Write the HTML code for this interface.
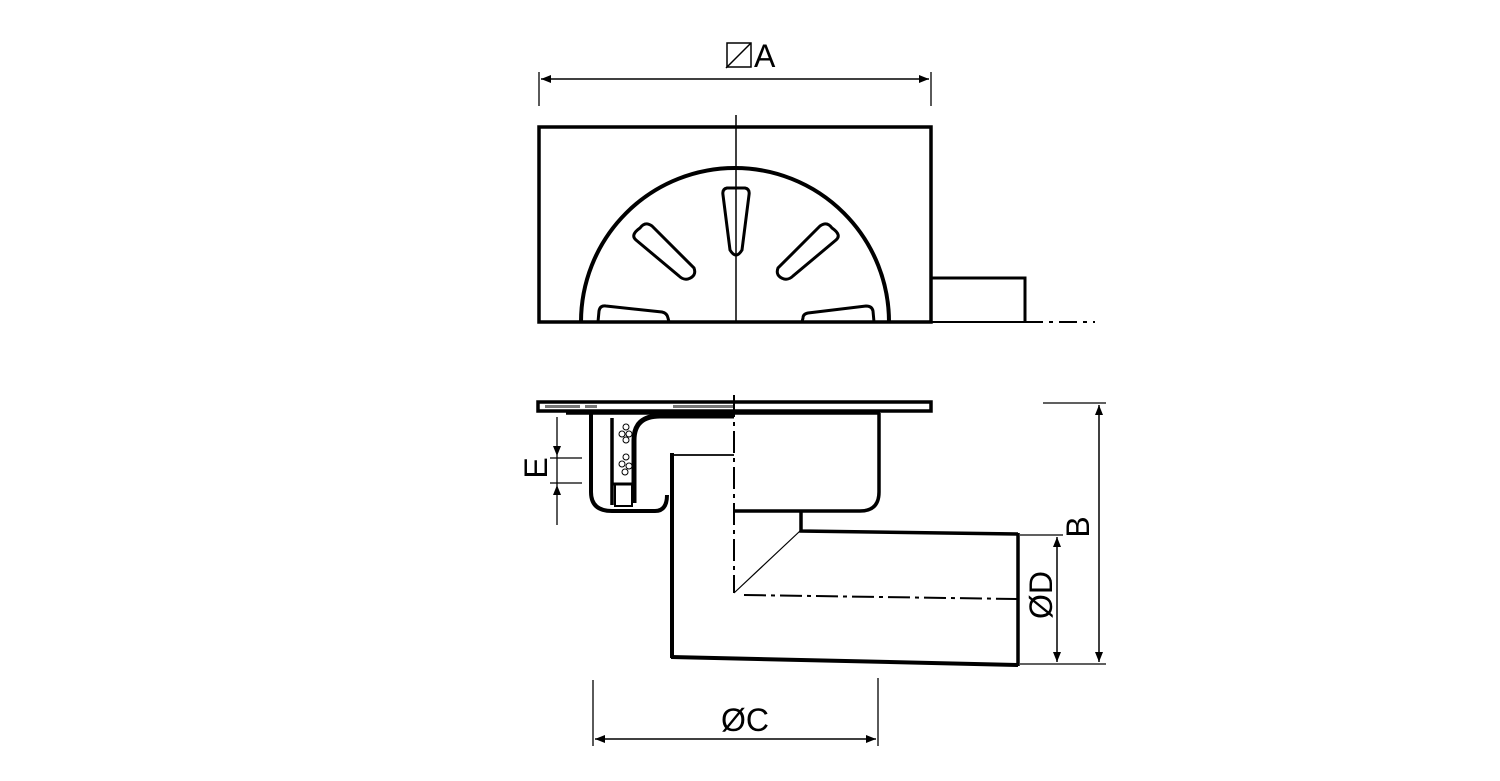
<!DOCTYPE html>
<html><head><meta charset="utf-8"><style>
html,body{margin:0;padding:0;background:#fff;}
svg{display:block;}
text{font-family:"Liberation Sans",sans-serif;fill:#000;}
</style></head><body>
<svg width="1500" height="781" viewBox="0 0 1500 781" xmlns="http://www.w3.org/2000/svg">
<defs>
<marker id="ar" viewBox="0 0 10 10" refX="10" refY="5" markerWidth="14" markerHeight="10" markerUnits="userSpaceOnUse" orient="auto-start-reverse">
<path d="M0,1 L10,5 L0,9 z" fill="#000"/>
</marker>
<clipPath id="up"><rect x="0" y="0" width="1500" height="322"/></clipPath>
</defs>
<g fill="none" stroke="#000">
<!-- ===== Top view ===== -->
<rect x="539" y="127" width="392" height="195" stroke-width="3.5"/>
<line x1="736" y1="115" x2="736" y2="322" stroke-width="1.5"/>
<circle cx="735" cy="322" r="154" stroke-width="4" clip-path="url(#up)"/>
<polyline points="931,322 931,278 1025,278 1025,322" stroke-width="3"/>
<line x1="539" y1="322" x2="1025" y2="322" stroke-width="2"/>
<line x1="1025" y1="322" x2="1095" y2="322" stroke-width="2" stroke-dasharray="18,6,4,6"/>
<!-- slots -->
<path d="M727,188 L745,188 Q750,189 749,195 L742,250 Q736,260 730,250 L723,195 Q722,189 727,188 Z" stroke-width="3"/>
<path d="M640,228 Q645,221 652,226 L694,268 Q697,276 688,279 Q683,280 679,276 L636,240 Q630,235 640,228 Z" stroke-width="3"/>
<path d="M832,228 Q827,221 820,226 L778,268 Q775,276 784,279 Q789,280 793,276 L836,240 Q842,235 832,228 Z" stroke-width="3"/>
<path d="M598,322 L599,311 Q600,305 606,306 L662,312 Q667,313 668,318 L669,322" stroke-width="3"/>
<path d="M874,322 L873,311 Q872,306 866,306 L808,313 Q803,314 803,318 L802,322" stroke-width="3"/>
<!-- A dimension -->
<line x1="539" y1="72" x2="539" y2="106" stroke-width="1.3"/>
<line x1="931" y1="72" x2="931" y2="106" stroke-width="1.3"/>
<line x1="541" y1="79" x2="929" y2="79" stroke-width="1.5" marker-start="url(#ar)" marker-end="url(#ar)"/>
<rect x="727" y="43" width="24" height="24" stroke-width="1.5"/>
<line x1="726" y1="68" x2="751" y2="43" stroke-width="1.5"/>

<!-- ===== Section view ===== -->
<rect x="538" y="402" width="393" height="9" stroke-width="3.5"/>
<rect x="545" y="405" width="35" height="3" fill="#777" stroke="none"/>
<rect x="585" y="405" width="12" height="3" fill="#777" stroke="none"/>
<rect x="673" y="405" width="61" height="3" fill="#777" stroke="none"/>
<line x1="566" y1="413" x2="880" y2="413" stroke-width="3.5"/>
<!-- bowl -->
<path d="M879,413 L879,492 Q879,511 860,511 L734,511" stroke-width="3.5"/>
<!-- trap -->
<path d="M591,413 L591,492 Q591,511 612,511 L655,511 Q667,511 667,495" stroke-width="4"/>
<line x1="612" y1="418" x2="612" y2="505" stroke-width="3.5"/>
<path d="M634,503 L634,440 Q634,416 660,416 L734,416" stroke-width="5"/>
<rect x="615" y="484" width="17" height="22" stroke-width="2"/>
<line x1="612" y1="484" x2="635" y2="484" stroke-width="3"/>
<g stroke-width="1">
<circle cx="626" cy="427" r="3"/><circle cx="622" cy="434" r="3"/><circle cx="629" cy="434" r="3"/><circle cx="626" cy="440" r="3"/>
<circle cx="626" cy="457" r="3"/><circle cx="622" cy="464" r="3"/><circle cx="629" cy="466" r="3"/><circle cx="625" cy="472" r="3"/>
</g>
<!-- pipe -->
<line x1="672" y1="453" x2="672" y2="658" stroke-width="4"/>
<line x1="672" y1="455" x2="734" y2="455" stroke-width="1.8"/>
<line x1="671" y1="657" x2="1018" y2="665" stroke-width="4"/>
<polyline points="801,511 801,531 1018,534" stroke-width="3.5"/>
<line x1="1018" y1="533" x2="1018" y2="666" stroke-width="3.5"/>
<line x1="800" y1="531" x2="734" y2="593" stroke-width="1.2"/>
<line x1="734" y1="395" x2="734" y2="593" stroke-width="2" stroke-dasharray="22,5,4,5"/>
<line x1="744" y1="595" x2="1017" y2="599" stroke-width="2" stroke-dasharray="22,5,4,5"/>
<!-- B dim -->
<line x1="1043" y1="403" x2="1106" y2="403" stroke-width="1.3"/>
<line x1="1020" y1="664" x2="1106" y2="664" stroke-width="1.3"/>
<line x1="1099" y1="405" x2="1099" y2="662" stroke-width="1.5" marker-start="url(#ar)" marker-end="url(#ar)"/>
<!-- D dim -->
<line x1="1020" y1="535" x2="1063" y2="535" stroke-width="1.3"/>
<line x1="1057" y1="537" x2="1057" y2="662" stroke-width="1.5" marker-start="url(#ar)" marker-end="url(#ar)"/>
<!-- C dim -->
<line x1="593" y1="680" x2="593" y2="746" stroke-width="1.3"/>
<line x1="878" y1="678" x2="878" y2="746" stroke-width="1.3"/>
<line x1="595" y1="739" x2="876" y2="739" stroke-width="1.5" marker-start="url(#ar)" marker-end="url(#ar)"/>
<!-- E dim -->
<line x1="557" y1="417" x2="557" y2="456" stroke-width="1.3" marker-end="url(#ar)"/>
<line x1="557" y1="525" x2="557" y2="485" stroke-width="1.3" marker-end="url(#ar)"/>
<line x1="557" y1="456" x2="557" y2="485" stroke-width="1.3"/>
<line x1="550" y1="458" x2="582" y2="458" stroke-width="1.3"/>
<line x1="550" y1="483" x2="582" y2="483" stroke-width="1.3"/>
</g>
<text x="754" y="67" font-size="32">A</text>
<text x="745" y="731" font-size="32" text-anchor="middle">ØC</text>
<text transform="translate(1089,527) rotate(-90)" font-size="32" text-anchor="middle">B</text>
<text transform="translate(1052,595) rotate(-90)" font-size="32" text-anchor="middle">ØD</text>
<text transform="translate(547,468) rotate(-90)" font-size="32" text-anchor="middle">E</text>
</svg>
</body></html>
